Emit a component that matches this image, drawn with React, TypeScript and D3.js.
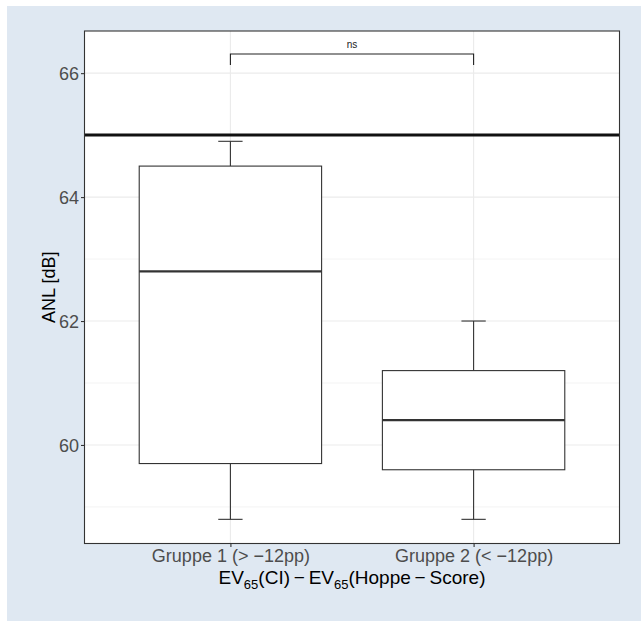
import React, { useRef, useEffect } from 'react';
import * as d3 from 'd3';

const groups = ['Gruppe 1 (> \u221212pp)', 'Gruppe 2 (< \u221212pp)'];
const whiskerLow = [58.8, 58.8];
const q1 = [59.7, 59.6];
const median = [62.8, 60.4];
const q3 = [64.5, 61.2];
const whiskerHigh = [64.9, 62.0];
const refLine = 65;
const majorTicks = [60, 62, 64, 66];
const minorTicks = [59, 61, 63, 65];
const bracketY = 66.31;
const bracketTip = 66.13;
const bracketLabel = 'ns';

const W = 641;
const H = 621;
const panel = { left: 84.5, right: 619.5, top: 31, bottom: 543.5 };
const font = '"Liberation Sans", Arial, Helvetica, sans-serif';

const App = () => {
  const svgRef = useRef(null);

  useEffect(() => {
    const svg = d3.select(svgRef.current);
    svg.selectAll('*').remove();

    svg.append('rect')
      .attr('x', 7).attr('y', 6)
      .attr('width', W - 7).attr('height', H - 6)
      .attr('fill', '#dfe8f2');

    const x = d3.scalePoint()
      .domain(groups)
      .range([panel.left, panel.right])
      .padding(0.6);
    const step = x.step();

    const y = d3.scaleLinear()
      .domain([58.41, 66.68])
      .range([panel.bottom, panel.top]);

    svg.append('rect')
      .attr('x', panel.left).attr('y', panel.top)
      .attr('width', panel.right - panel.left)
      .attr('height', panel.bottom - panel.top)
      .attr('fill', 'white');

    // grid
    const grid = svg.append('g').attr('stroke', '#ebebeb');
    minorTicks.forEach(v => {
      grid.append('line')
        .attr('x1', panel.left).attr('x2', panel.right)
        .attr('y1', y(v)).attr('y2', y(v))
        .attr('stroke-width', 0.6);
    });
    majorTicks.forEach(v => {
      grid.append('line')
        .attr('x1', panel.left).attr('x2', panel.right)
        .attr('y1', y(v)).attr('y2', y(v))
        .attr('stroke-width', 1.1);
    });
    groups.forEach(g => {
      grid.append('line')
        .attr('x1', x(g)).attr('x2', x(g))
        .attr('y1', panel.top).attr('y2', panel.bottom)
        .attr('stroke-width', 1.1);
    });

    // boxes
    const bw = step * 0.75;
    const cap = step * 0.1;
    const boxes = svg.append('g').attr('stroke', '#333333').attr('fill', 'white');
    groups.forEach((g, i) => {
      const cx = x(g);
      boxes.append('line')
        .attr('x1', cx).attr('x2', cx)
        .attr('y1', y(q3[i])).attr('y2', y(whiskerHigh[i]))
        .attr('stroke-width', 1.1);
      boxes.append('line')
        .attr('x1', cx).attr('x2', cx)
        .attr('y1', y(q1[i])).attr('y2', y(whiskerLow[i]))
        .attr('stroke-width', 1.1);
      [whiskerHigh[i], whiskerLow[i]].forEach(v => {
        boxes.append('line')
          .attr('x1', cx - cap / 2).attr('x2', cx + cap / 2)
          .attr('y1', y(v)).attr('y2', y(v))
          .attr('stroke-width', 1.1);
      });
      boxes.append('rect')
        .attr('x', cx - bw / 2).attr('y', y(q3[i]))
        .attr('width', bw).attr('height', y(q1[i]) - y(q3[i]))
        .attr('stroke-width', 1.1);
      boxes.append('line')
        .attr('x1', cx - bw / 2).attr('x2', cx + bw / 2)
        .attr('y1', y(median[i])).attr('y2', y(median[i]))
        .attr('stroke-width', 2.2);
    });

    // reference line
    svg.append('line')
      .attr('x1', panel.left).attr('x2', panel.right)
      .attr('y1', y(refLine)).attr('y2', y(refLine))
      .attr('stroke', '#111')
      .attr('stroke-width', 3);

    // significance bracket
    const bx1 = x(groups[0]);
    const bx2 = x(groups[1]);
    svg.append('path')
      .attr('d', `M${bx1},${y(bracketTip)}V${y(bracketY)}H${bx2}V${y(bracketTip)}`)
      .attr('fill', 'none')
      .attr('stroke', '#222')
      .attr('stroke-width', 1.1);
    svg.append('text')
      .attr('x', (bx1 + bx2) / 2)
      .attr('y', y(bracketY) - 6)
      .attr('text-anchor', 'middle')
      .attr('font-family', font)
      .attr('font-size', 10)
      .attr('fill', '#222')
      .text(bracketLabel);

    // panel border
    svg.append('rect')
      .attr('x', panel.left).attr('y', panel.top)
      .attr('width', panel.right - panel.left)
      .attr('height', panel.bottom - panel.top)
      .attr('fill', 'none')
      .attr('stroke', '#333333')
      .attr('stroke-width', 1.1);

    // axes
    const yAxis = svg.append('g')
      .attr('transform', `translate(${panel.left},0)`)
      .call(d3.axisLeft(y).tickValues(majorTicks).tickSize(3.5).tickPadding(2).tickFormat(d3.format('d')));
    yAxis.select('.domain').remove();
    yAxis.selectAll('line').attr('stroke', '#333333').attr('stroke-width', 1.1);
    yAxis.selectAll('text')
      .attr('font-family', font).attr('font-size', 18).attr('fill', '#4d4d4d')
      .attr('dy', '0.36em');

    const xAxis = svg.append('g')
      .attr('transform', `translate(0,${panel.bottom})`)
      .call(d3.axisBottom(x).tickSize(3.5).tickPadding(2));
    xAxis.select('.domain').remove();
    xAxis.selectAll('line').attr('stroke', '#333333').attr('stroke-width', 1.1);
    xAxis.selectAll('text')
      .attr('font-family', font).attr('font-size', 18).attr('fill', '#4d4d4d')
      .attr('dy', '0.71em');

    // axis titles
    svg.append('text')
      .attr('transform', `translate(55,${(panel.top + panel.bottom) / 2}) rotate(-90)`)
      .attr('text-anchor', 'middle')
      .attr('font-family', font)
      .attr('font-size', 18)
      .attr('fill', 'black')
      .text('ANL [dB]');

    const xt = svg.append('text')
      .attr('x', (panel.left + panel.right) / 2)
      .attr('y', 583.5)
      .attr('text-anchor', 'middle')
      .attr('font-family', font)
      .attr('font-size', 19)
      .attr('fill', 'black');
    xt.append('tspan').text('EV');
    xt.append('tspan').attr('font-size', 13).attr('dy', 5).text('65');
    xt.append('tspan').attr('dy', -5).text('(CI)\u2009\u2212\u2009EV');
    xt.append('tspan').attr('font-size', 13).attr('dy', 5).text('65');
    xt.append('tspan').attr('dy', -5).text('(Hoppe\u2009\u2212\u2009Score)');
  }, []);

  return (
    <svg ref={svgRef} width={W} height={H}
      style={{ position: 'absolute', left: 0, top: 0, display: 'block' }} />
  );
};

export default App;
